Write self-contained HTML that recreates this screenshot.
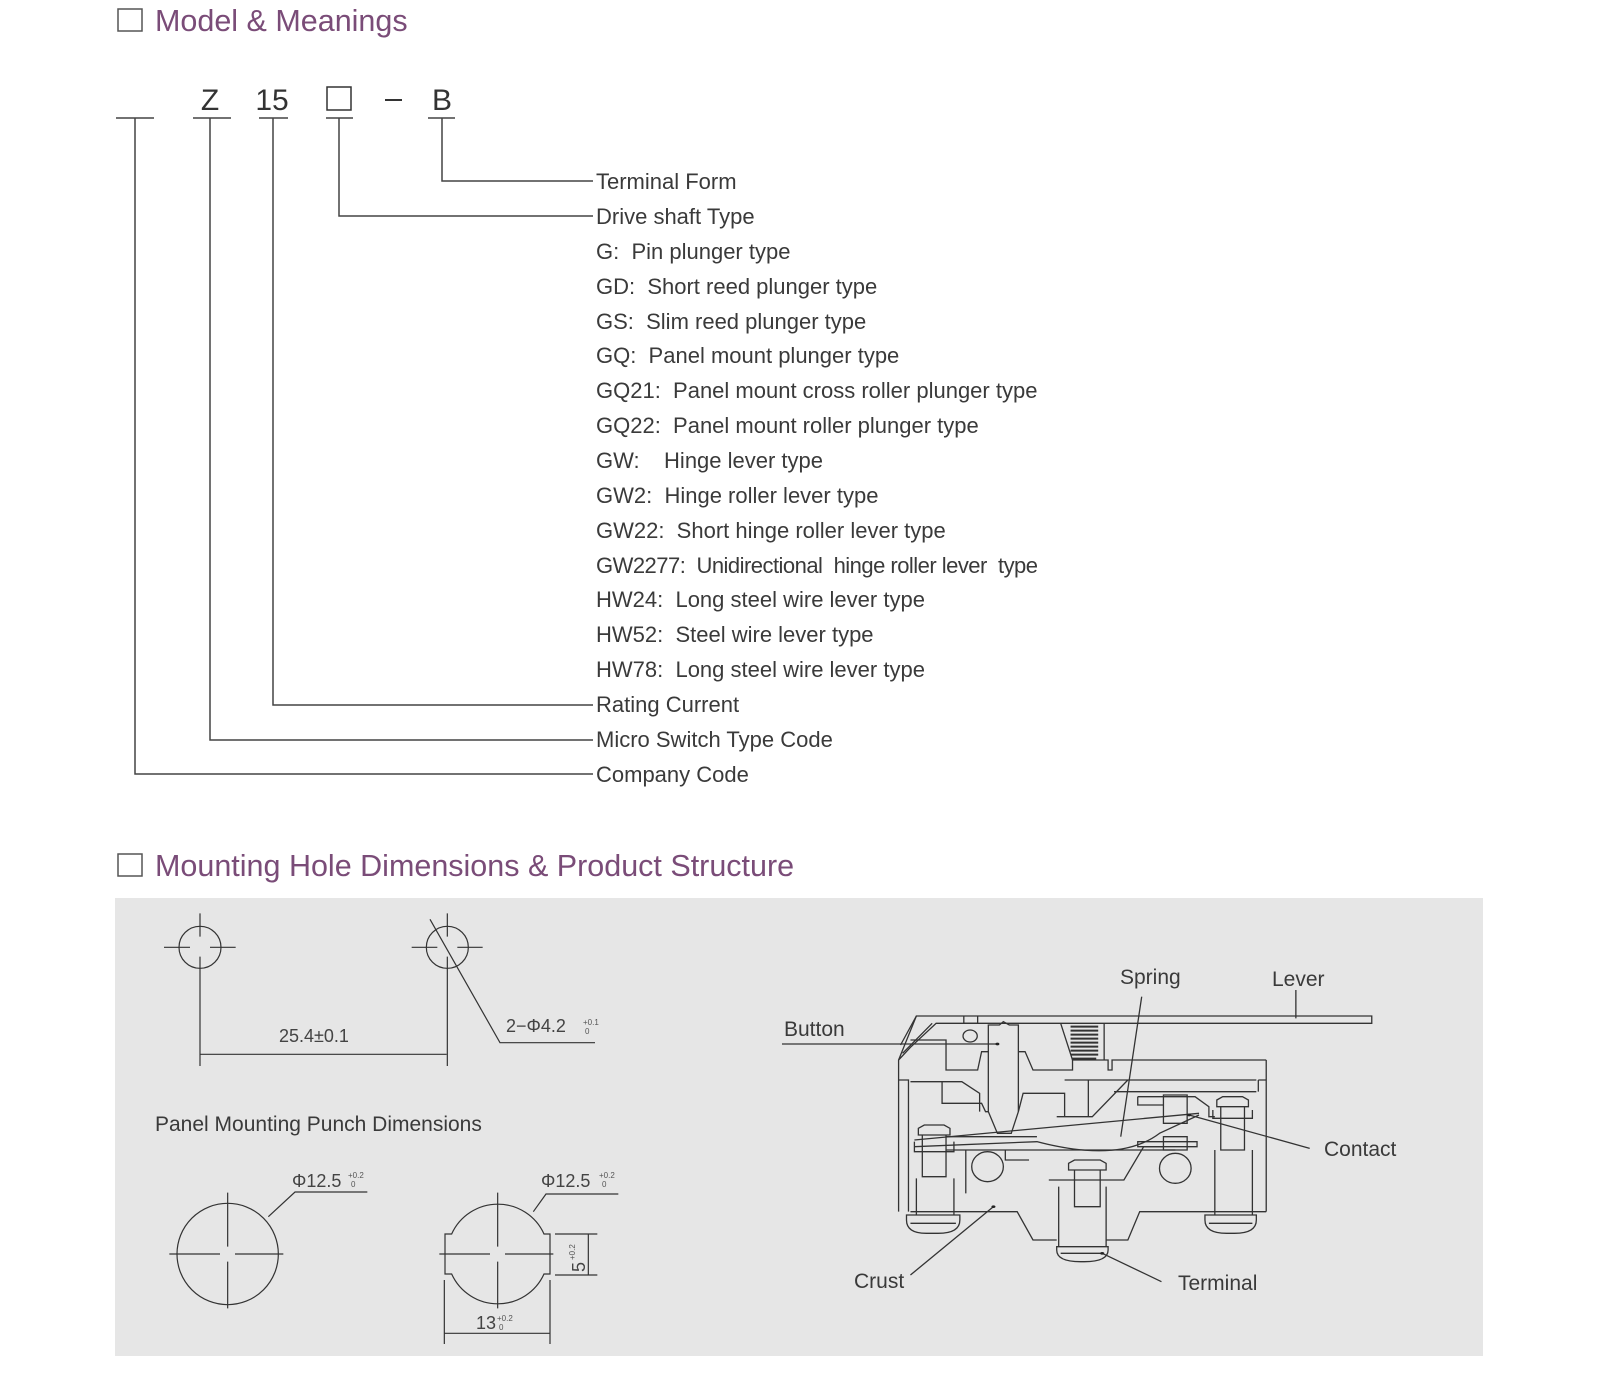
<!DOCTYPE html>
<html><head><meta charset="utf-8"><style>
html,body{margin:0;padding:0;background:#fff;}
svg{display:block;}
text{font-family:"Liberation Sans",Arial,sans-serif;white-space:pre;}
.l{font-size:22px;fill:#3a3a3a;}
.h{font-size:30.5px;fill:#7a4c78;}
.d{font-size:18px;fill:#444;}
.s{font-size:8px;fill:#555;}
</style></head><body>
<svg width="1600" height="1391" viewBox="0 0 1600 1391" xmlns="http://www.w3.org/2000/svg" xml:space="preserve">
<rect x="0" y="0" width="1600" height="1391" fill="#fff"/>
<rect x="118" y="9" width="24" height="22" fill="none" stroke="#555" stroke-width="1.5"/>
<text x="155" y="31" class="h">Model &amp; Meanings</text>
<g font-size="30" fill="#333">
<text x="210" y="110" text-anchor="middle">Z</text>
<text x="272" y="110" text-anchor="middle">15</text>
<text x="442" y="110" text-anchor="middle">B</text>
</g>
<rect x="327" y="87" width="24" height="23" fill="none" stroke="#333" stroke-width="1.5"/>
<line x1="385" y1="100" x2="402" y2="100" stroke="#333" stroke-width="2"/>
<g stroke="#444" stroke-width="1.5" fill="none">
<line x1="116" y1="118" x2="154" y2="118"/>
<line x1="193" y1="118" x2="231" y2="118"/>
<line x1="259" y1="118" x2="288" y2="118"/>
<line x1="326" y1="118" x2="353" y2="118"/>
<line x1="428" y1="118" x2="455" y2="118"/>
<polyline points="442,118 442,181 593,181"/>
<polyline points="339,118 339,216 593,216"/>
<polyline points="273,118 273,705 593,705"/>
<polyline points="210,118 210,740 593,740"/>
<polyline points="135,118 135,774 593,774"/>
</g>
<g class="l">
<text x="596" y="189">Terminal Form</text>
<text x="596" y="224">Drive shaft Type</text>
<text x="596" y="259">G:  Pin plunger type</text>
<text x="596" y="294">GD:  Short reed plunger type</text>
<text x="596" y="329">GS:  Slim reed plunger type</text>
<text x="596" y="363">GQ:  Panel mount plunger type</text>
<text x="596" y="398">GQ21:  Panel mount cross roller plunger type</text>
<text x="596" y="433">GQ22:  Panel mount roller plunger type</text>
<text x="596" y="468">GW:    Hinge lever type</text>
<text x="596" y="503">GW2:  Hinge roller lever type</text>
<text x="596" y="538">GW22:  Short hinge roller lever type</text>
<text x="596" y="573" textLength="442">GW2277:  Unidirectional  hinge roller lever  type</text>
<text x="596" y="607">HW24:  Long steel wire lever type</text>
<text x="596" y="642">HW52:  Steel wire lever type</text>
<text x="596" y="677">HW78:  Long steel wire lever type</text>
<text x="596" y="712">Rating Current</text>
<text x="596" y="747">Micro Switch Type Code</text>
<text x="596" y="782">Company Code</text>
</g>
<rect x="118" y="854" width="24" height="22" fill="none" stroke="#555" stroke-width="1.5"/>
<text x="155" y="876" class="h">Mounting Hole Dimensions &amp; Product Structure</text>
<rect x="115" y="898" width="1368" height="458" fill="#e6e6e6"/>

<g transform="translate(140,900) scale(0.33333)" fill="none" stroke="#333" stroke-width="1.2">
<circle cx="180" cy="142" r="63" vector-effect="non-scaling-stroke"/>
<circle cx="922" cy="142" r="63" vector-effect="non-scaling-stroke"/>
<path d="M72,142 H150 M210,142 H287 M180,40 V110 M180,170 V498 M815,142 H892 M952,142 H1028 M922,40 V110 M922,170 V498" vector-effect="non-scaling-stroke"/>
<path d="M180,463 H920" vector-effect="non-scaling-stroke"/>
<path d="M870,58 L1080,428 H1365" vector-effect="non-scaling-stroke"/>
<circle cx="263" cy="1062" r="152" vector-effect="non-scaling-stroke"/>
<path d="M88,1062 H240 M285,1062 H430 M263,878 V1040 M263,1085 V1225" vector-effect="non-scaling-stroke"/>
<path d="M385,950 L465,876 H682" vector-effect="non-scaling-stroke"/>
<path d="M935,1002 A152,152 0 0 1 1212,1002 H1230 V1122 H1212 A152,152 0 0 1 935,1122 H915 V1002 Z" vector-effect="non-scaling-stroke"/>
<path d="M898,1062 H1050 M1095,1062 H1240 M1073,878 V1040 M1073,1085 V1225" vector-effect="non-scaling-stroke"/>
<path d="M1180,935 L1218,882 H1435" vector-effect="non-scaling-stroke"/>
<path d="M1245,1002 H1372 M1245,1125 H1372 M1345,1002 V1125" vector-effect="non-scaling-stroke"/>
<path d="M913,1140 V1332 M1230,1140 V1332 M913,1300 H1230" vector-effect="non-scaling-stroke"/>
</g>
<text x="279" y="1042" class="d">25.4±0.1</text>
<text x="506" y="1032" class="d">2−Φ4.2</text><text x="583" y="1025" class="s">+0.1</text><text x="585" y="1034" class="s">0</text>
<text x="155" y="1131" font-size="21" fill="#3a3a3a">Panel Mounting Punch Dimensions</text>
<text x="292" y="1187" class="d">Φ12.5</text><text x="348" y="1178" class="s">+0.2</text><text x="351" y="1187" class="s">0</text>
<text x="541" y="1187" class="d">Φ12.5</text><text x="599" y="1178" class="s">+0.2</text><text x="602" y="1187" class="s">0</text>
<text x="476" y="1329" class="d">13</text><text x="497" y="1321" class="s">+0.2</text><text x="499" y="1330" class="s">0</text>
<text transform="translate(585,1272) rotate(-90)" class="d">5</text>
<text transform="translate(575,1260) rotate(-90)" class="s">+0.2</text>

<g transform="translate(780,960) scale(0.3953,0.33333)" fill="none" stroke="#333" stroke-width="1.3">
<path vector-effect="non-scaling-stroke" d="M300,755 V300 L345,168 H1497 V190 H395 L330,262 L300,300"/>
<path vector-effect="non-scaling-stroke" d="M310,280 L385,190 M345,168 L305,255"/>
<path vector-effect="non-scaling-stroke" d="M300,360 H325 V755 M1230,300 V755 M1210,360 H1230 M1210,360 V395"/>
<path vector-effect="non-scaling-stroke" d="M330,240 H420 V330 H500 L510,275 H527 M603,275 H620 L640,330 H740 V300 H830 V330 H840 V300 H1230"/>
<path vector-effect="non-scaling-stroke" d="M330,365 H410 V430 H510 L520,455 H527 M410,365 H460 L505,400 V455 M603,455 L615,400 H720 V470 H780 V360 H720 M780,360 H1205 M845,395 H1205 M700,470 H790 L880,360"/>
<path vector-effect="non-scaling-stroke" d="M527,195 H555 L565,185 L580,195 H603 V455 L585,520 H550 L527,455 Z"/>
<circle vector-effect="non-scaling-stroke" cx="481" cy="228" r="18"/>
<path vector-effect="non-scaling-stroke" d="M465,168 V190 H500 V168"/>
<path vector-effect="non-scaling-stroke" d="M710,190 L740,300 M820,190 L820,300"/>
<path vector-effect="non-scaling-stroke" stroke-width="2" d="M735,200 H805 M735,212 H805 M735,224 H805 M735,236 H805 M735,248 H805 M735,260 H805 M735,272 H805 M735,284 H805 M740,296 H800"/>
<path vector-effect="non-scaling-stroke" d="M330,755 H600 L640,840 H700 M825,840 H880 L910,755 H1230"/>
<ellipse vector-effect="non-scaling-stroke" cx="525" cy="620" rx="40" ry="45"/>
<ellipse vector-effect="non-scaling-stroke" cx="1000" cy="625" rx="40" ry="45"/>
<path vector-effect="non-scaling-stroke" d="M340,540 L1060,460 M340,560 L650,545 Q860,610 960,520 L1060,465"/>
<path vector-effect="non-scaling-stroke" d="M420,530 H650 M420,570 H1000 M470,570 V700 M570,570 V600 H630 V600 M680,660 H870 L920,560 H970"/>
<path vector-effect="non-scaling-stroke" d="M905,410 H1050 L1085,440 V470 L1100,470 M905,410 V435 H970 M970,405 H1030 V490 H970 Z M970,530 H1030 V570 H970 Z M905,545 H1055 V560 H905 Z"/>
<path vector-effect="non-scaling-stroke" d="M350,505 L365,495 H415 L430,505 V525 H350 Z M360,525 V650 H420 V525 M340,545 V575 H440 V545 M345,655 V765 H440 V655 M320,765 H455 V780 Q455,820 400,820 H370 Q320,820 320,780 Z M330,790 H445"/>
<path vector-effect="non-scaling-stroke" d="M730,610 L745,600 H810 L825,610 V630 H730 Z M745,630 V740 H810 V630 M705,680 V860 H825 V680 M700,860 H830 V870 Q830,905 770,905 H760 Q700,905 700,870 Z M710,880 H820"/>
<path vector-effect="non-scaling-stroke" d="M1105,420 L1120,410 H1170 L1185,420 V440 H1105 Z M1115,440 V570 H1175 V440 M1095,450 V475 H1195 V450 M1100,570 V765 H1195 V570 M1075,765 H1205 V780 Q1205,820 1150,820 H1130 Q1075,820 1075,780 Z M1085,790 H1195"/>
<path vector-effect="non-scaling-stroke" d="M5,252 H550 M915,110 L862,530 M1305,90 V175 M1340,565 L1035,465 M330,945 L540,740 M965,965 L815,880"/>
<g fill="#222" stroke="none"><ellipse cx="550" cy="252" rx="5" ry="4"/><ellipse cx="540" cy="740" rx="5" ry="4"/><ellipse cx="815" cy="880" rx="5" ry="4"/><ellipse cx="1035" cy="465" rx="5" ry="4"/></g>
</g>
<g font-size="21" fill="#3a3a3a">
<text x="784" y="1036">Button</text>
<text x="1120" y="984">Spring</text>
<text x="1272" y="986">Lever</text>
<text x="1324" y="1156">Contact</text>
<text x="854" y="1288">Crust</text>
<text x="1178" y="1290">Terminal</text>
</g>
</svg>
</body></html>
